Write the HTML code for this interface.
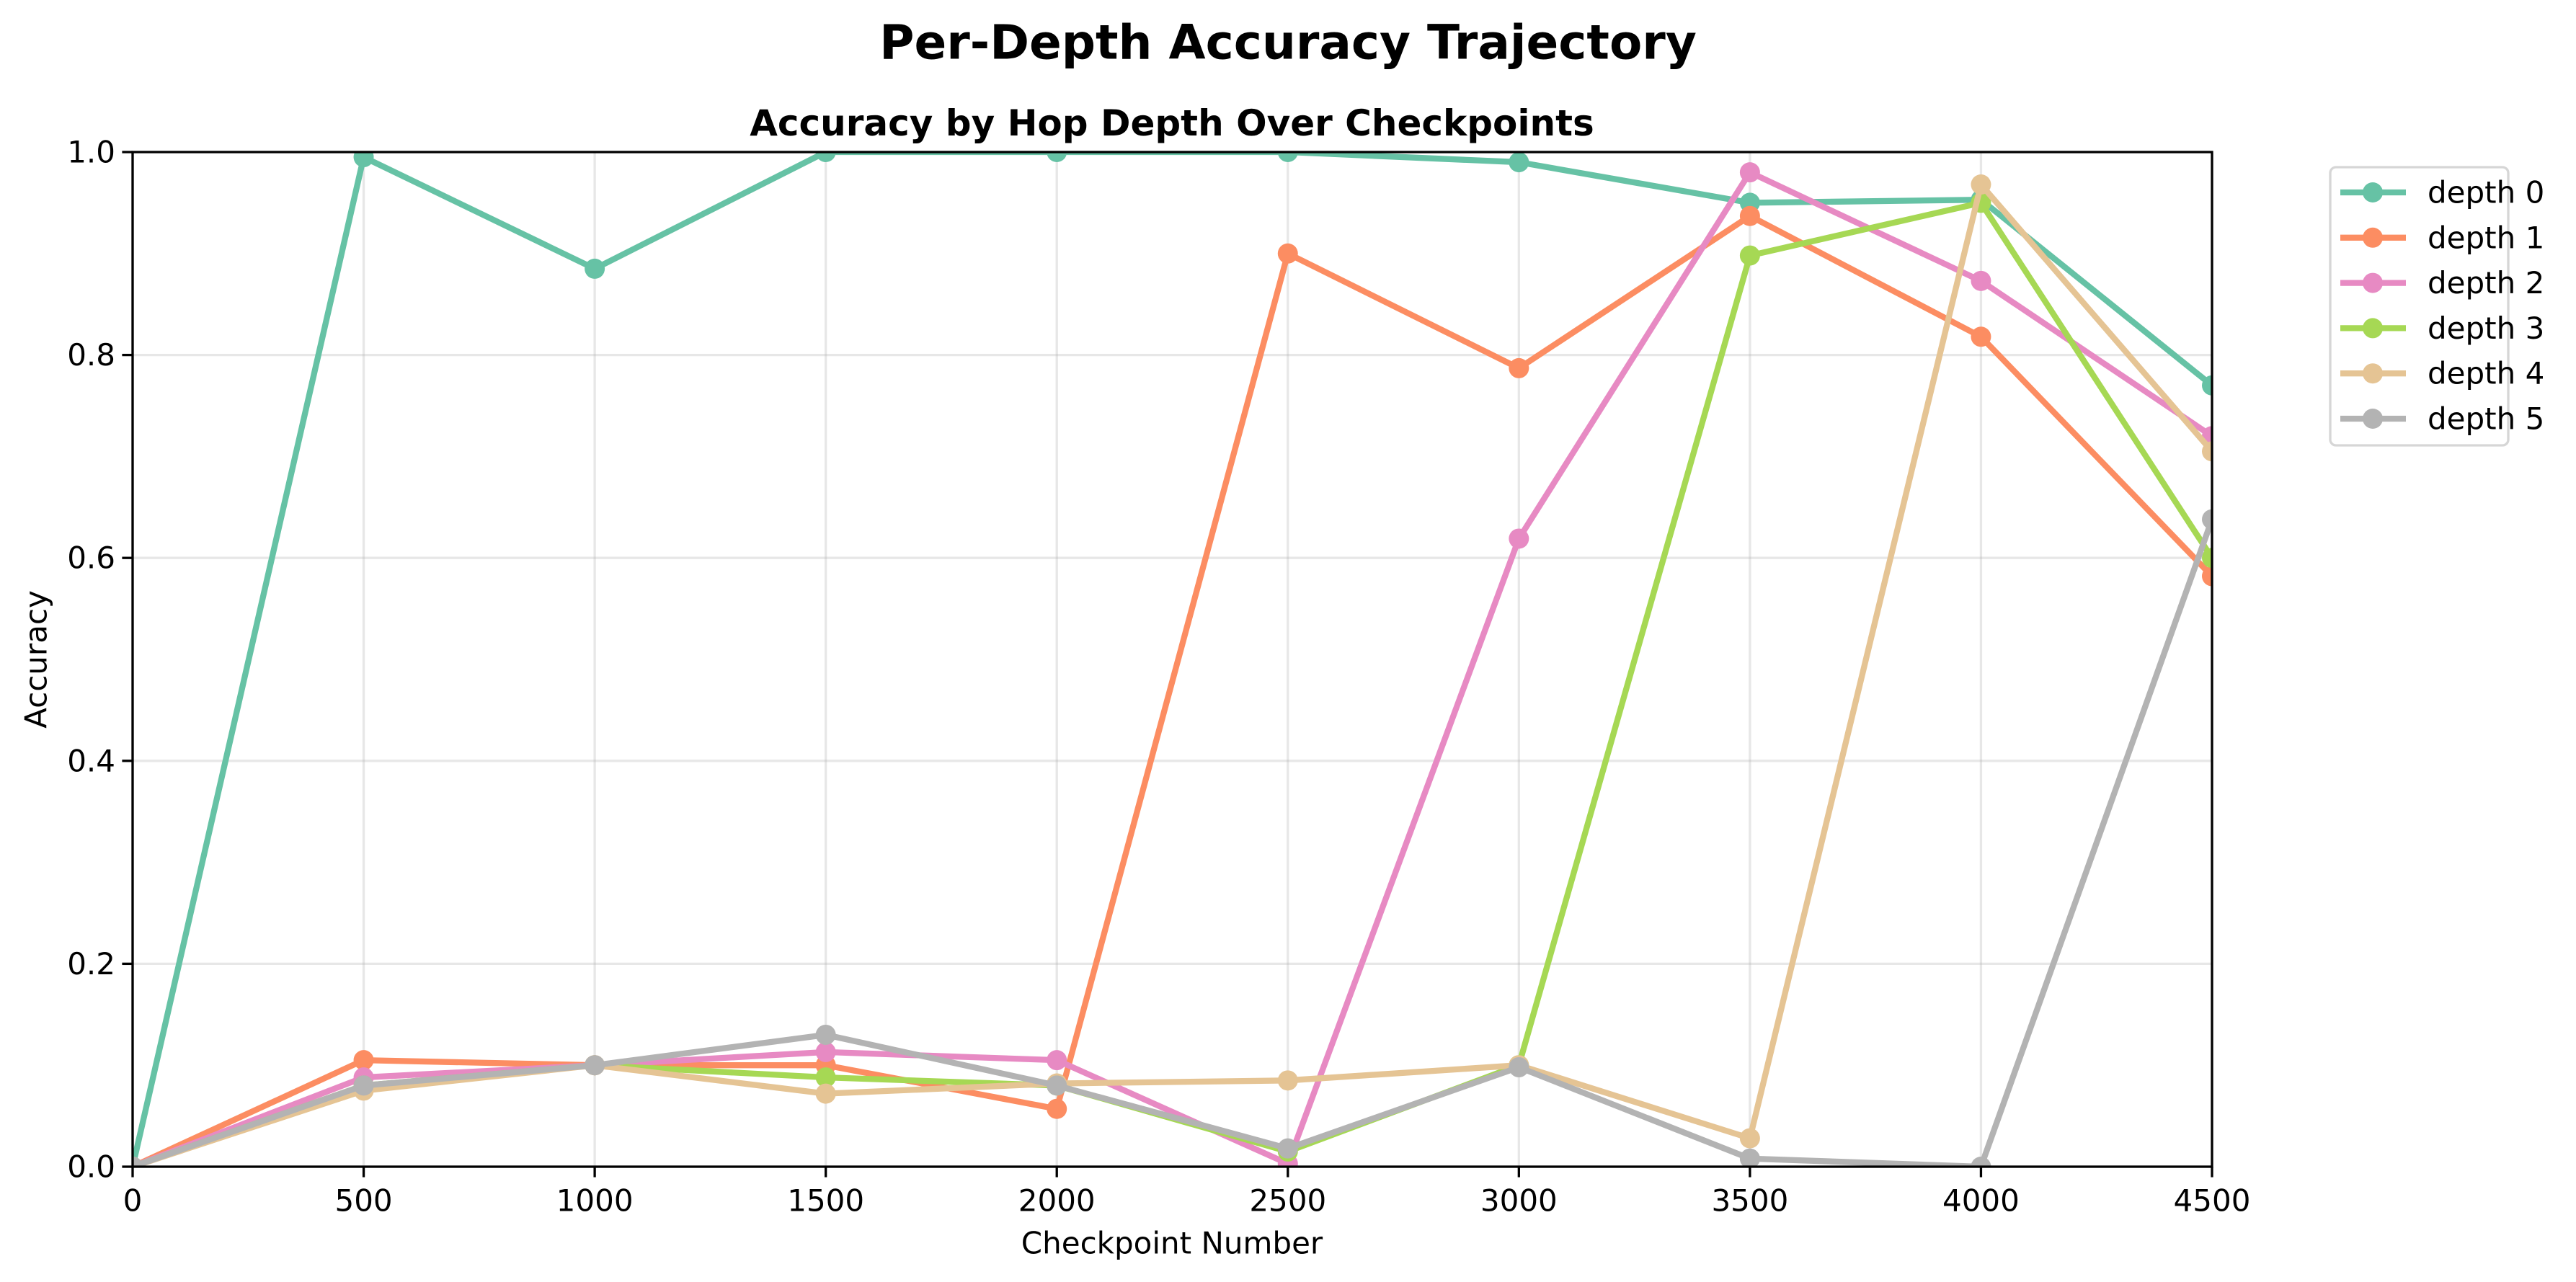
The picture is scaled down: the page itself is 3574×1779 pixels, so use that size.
<!DOCTYPE html>
<html><head><meta charset="utf-8"><style>
html,body{margin:0;padding:0;background:#fff;}
svg{display:block;font-family:"DejaVu Sans","Liberation Sans",sans-serif;}
</style></head><body>
<svg id="chart" width="3574" height="1779" viewBox="0 0 3574 1779" xmlns="http://www.w3.org/2000/svg">
<defs><clipPath id="plotclip"><rect x="184" y="211" width="2885" height="1408"/></clipPath></defs>
<rect width="3574" height="1779" fill="#fff"/>
<text x="1787" y="59" font-size="66" font-weight="bold" text-anchor="middle" dominant-baseline="central">Per-Depth Accuracy Trajectory</text>
<text x="1626" y="171" font-size="50" font-weight="bold" text-anchor="middle" dominant-baseline="central">Accuracy by Hop Depth Over Checkpoints</text>
<g id="grid"></g>
<g id="axes"></g>
<g id="series" clip-path="url(#plotclip)"></g>
<g id="frame"></g>
<text x="1626" y="1725" font-size="42" text-anchor="middle" dominant-baseline="central">Checkpoint Number</text>
<text x="50" y="915" font-size="42" text-anchor="middle" dominant-baseline="central" transform="rotate(-90 50 915)">Accuracy</text>
<g id="legend"></g>
</svg>
<script>
const checkpoints = [0,500,1000,1500,2000,2500,3000,3500,4000,4500];
const seriesNames = ["depth 0","depth 1","depth 2","depth 3","depth 4","depth 5"];
const depth0 = [0,0.995,0.885,1.0,1.0,1.0,0.99,0.95,0.953,0.77];
const depth1 = [0,0.105,0.1,0.1,0.057,0.9,0.787,0.937,0.818,0.582];
const depth2 = [0,0.088,0.1,0.113,0.105,0.003,0.619,0.98,0.873,0.72];
const depth3 = [0,0.08,0.1,0.088,0.08,0.015,0.1,0.898,0.95,0.6];
const depth4 = [0,0.075,0.1,0.072,0.082,0.085,0.1,0.028,0.968,0.705];
const depth5 = [0,0.08,0.1,0.13,0.08,0.018,0.098,0.008,0.0,0.638];
const xTicks = [0,500,1000,1500,2000,2500,3000,3500,4000,4500];
const yTicks = [0,0.2,0.4,0.6,0.8,1.0];
const yTickLabels = ["0.0","0.2","0.4","0.6","0.8","1.0"];
const colors = ["#66c2a5","#fc8d62","#e78ac3","#a6d854","#e5c494","#b3b3b3"];
const allSeries = [depth0,depth1,depth2,depth3,depth4,depth5];

const L=184,R=3069,T=211,B=1619;
const xMin=0,xMax=4500,yMin=0,yMax=1;
const sx=v=>L+(v-xMin)/(xMax-xMin)*(R-L);
const sy=v=>B-(v-yMin)/(yMax-yMin)*(B-T);
const NS="http://www.w3.org/2000/svg";
function mk(tag,attrs,parent){const e=document.createElementNS(NS,tag);for(const k in attrs)e.setAttribute(k,attrs[k]);parent.appendChild(e);return e;}
const grid=document.getElementById('grid'),axes=document.getElementById('axes'),ser=document.getElementById('series'),leg=document.getElementById('legend'),frm=document.getElementById('frame');

xTicks.forEach((t,i)=>{
  const g=mk('line',{x1:sx(t),x2:sx(t),y1:T,y2:B,stroke:'#b0b0b0','stroke-opacity':0.3,'stroke-width':3.3},grid);
  
  
  const tk=mk('line',{x1:sx(t),x2:sx(t),y1:B,y2:B+14.6,stroke:'#000','stroke-width':3.3},axes);
  
  
  const tx=mk('text',{x:sx(t),y:1666,'font-size':42,'text-anchor':'middle','dominant-baseline':'central'},axes);
  tx.textContent=String(t);
  
  
});
yTicks.forEach((t,i)=>{
  const g=mk('line',{x1:L,x2:R,y1:sy(t),y2:sy(t),stroke:'#b0b0b0','stroke-opacity':0.3,'stroke-width':3.3},grid);
  
  
  const tk=mk('line',{x1:L-14.6,x2:L,y1:sy(t),y2:sy(t),stroke:'#000','stroke-width':3.3},axes);
  
  
  const tx=mk('text',{x:L-24,y:sy(t),'font-size':42,'text-anchor':'end','dominant-baseline':'central'},axes);
  tx.textContent=yTickLabels[i];
  
  
});

allSeries.forEach((vals,si)=>{
  const g=mk('g',{},ser);
  
  
  const pts=vals.map((v,i)=>sx(checkpoints[i])+','+sy(v)).join(' ');
  const pl=mk('polyline',{points:pts,fill:'none',stroke:colors[si],'stroke-width':8.3,'stroke-linejoin':'round','stroke-linecap':'round'},g);
  
  
  vals.forEach((v,i)=>{
    const c=mk('circle',{cx:sx(checkpoints[i]),cy:sy(v),r:14,fill:colors[si]},g);
    
    
  });
});

const frame=mk('rect',{x:L,y:T,width:R-L,height:B-T,fill:'none',stroke:'#000','stroke-width':3.3},frm);



const box=mk('rect',{x:3233,y:232,width:247,height:386,rx:8,fill:'#fff','fill-opacity':0.8,stroke:'#d6d6d6','stroke-width':3.3},leg);


seriesNames.forEach((n,i)=>{
  const y=267+i*62.8;
  const g=mk('g',{},leg);
  
  
  mk('line',{x1:3247,x2:3338,y1:y,y2:y,stroke:colors[i],'stroke-width':8.3},g);
  mk('circle',{cx:3292,cy:y,r:14,fill:colors[i]},g);
  const t=mk('text',{x:3368,y:y,'font-size':42,'dominant-baseline':'central'},g);
  t.textContent=n;
});
</script>
</body></html>
